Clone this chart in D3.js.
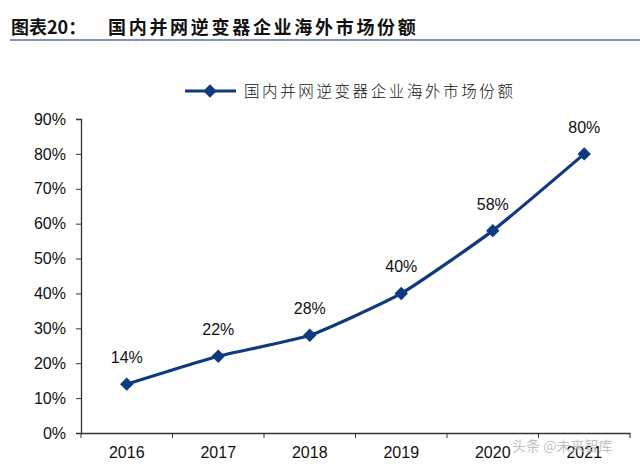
<!DOCTYPE html>
<html><head><meta charset="utf-8">
<script src="https://cdn.jsdelivr.net/npm/d3@7"></script>
<style>body{margin:0;background:#fff}</style>
</head><body>
<svg id="c" width="640" height="469"></svg>
<script>
const title = "图表20：";
const subtitle = "国内并网逆变器企业海外市场份额";
const seriesName = "国内并网逆变器企业海外市场份额";
const years = ["2016","2017","2018","2019","2020","2021"];
const shares = [14, 22, 28, 40, 58, 80];
const yTicks = [0,10,20,30,40,50,60,70,80,90];

const svg = d3.select("#c");
const color = "#103a80";

// header
svg.append("text").attr("x",11).attr("y",34).attr("font-family","Noto Sans CJK SC")
  .attr("font-weight","bold").attr("font-size",18).attr("fill","#111").text(title);
svg.append("text").attr("x",108).attr("y",34).attr("font-family","Noto Sans CJK SC")
  .attr("font-weight","bold").attr("font-size",18).attr("fill","#111").attr("letter-spacing",2.7).text(subtitle);
svg.append("line").attr("x1",10).attr("x2",640).attr("y1",40).attr("y2",40)
  .attr("stroke","#5a6aa8").attr("stroke-width",1.5);

const x = d3.scaleBand().domain(years).range([81,630]);
const y = d3.scaleLinear().domain([0,90]).range([433,119]);

const gy = svg.append("g").attr("transform","translate(81,0)")
  .call(d3.axisLeft(y).tickValues(yTicks).tickFormat(d=>d+"%").tickSize(5).tickPadding(10));
gy.select(".domain").attr("stroke","#333").attr("stroke-width",1.3);
gy.selectAll(".tick line").attr("stroke","#333");
gy.selectAll("text").attr("font-family","Liberation Sans, Arial").attr("font-size",16).attr("fill","#111");

const gx = svg.append("g").attr("transform","translate(0,433)")
  .call(d3.axisBottom(x).tickSize(0).tickPadding(14));
gx.select(".domain").attr("stroke","#333").attr("stroke-width",1.3);
gx.selectAll("text").attr("font-family","Liberation Sans, Arial").attr("font-size",16).attr("fill","#111");
// boundary ticks
const bounds = years.map(d=>x(d)).concat([x.range()[1]]);
svg.append("g").selectAll("line").data(bounds).join("line")
  .attr("x1",d=>d).attr("x2",d=>d).attr("y1",433).attr("y2",438).attr("stroke","#333");

const pts = years.map((d,i)=>[x(d)+x.bandwidth()/2, y(shares[i])]);
svg.append("path").attr("d",d3.line().curve(d3.curveCardinal.tension(0.5))(pts))
  .attr("fill","none").attr("stroke",color).attr("stroke-width",3.2);
const diamond = d3.symbol().type(d3.symbolSquare).size(90);
svg.append("g").selectAll("path").data(pts).join("path")
  .attr("transform",d=>`translate(${d[0]},${d[1]}) rotate(45)`).attr("d",diamond).attr("fill",color);
svg.append("g").selectAll("text").data(pts).join("text")
  .attr("x",d=>d[0]).attr("y",(d,i)=>d[1]-21).attr("text-anchor","middle")
  .attr("font-family","Liberation Sans, Arial").attr("font-size",16).attr("fill","#111")
  .text((d,i)=>shares[i]+"%");

// legend
svg.append("line").attr("x1",185).attr("x2",236).attr("y1",91).attr("y2",91)
  .attr("stroke",color).attr("stroke-width",3.2);
svg.append("path").attr("transform","translate(210,91) rotate(45)").attr("d",diamond).attr("fill",color);
svg.append("text").attr("x",244).attr("y",97).attr("font-family","Noto Sans CJK SC")
  .attr("font-weight",300).attr("font-size",15.5).attr("letter-spacing",2.6).attr("fill","#111").text(seriesName);

// watermark
svg.append("text").attr("x",512).attr("y",451).attr("font-family","Noto Sans CJK SC")
  .attr("font-size",14).attr("fill","#bbb").attr("opacity",0.9).text("头条 @未来智库");
</script>
</body></html>
